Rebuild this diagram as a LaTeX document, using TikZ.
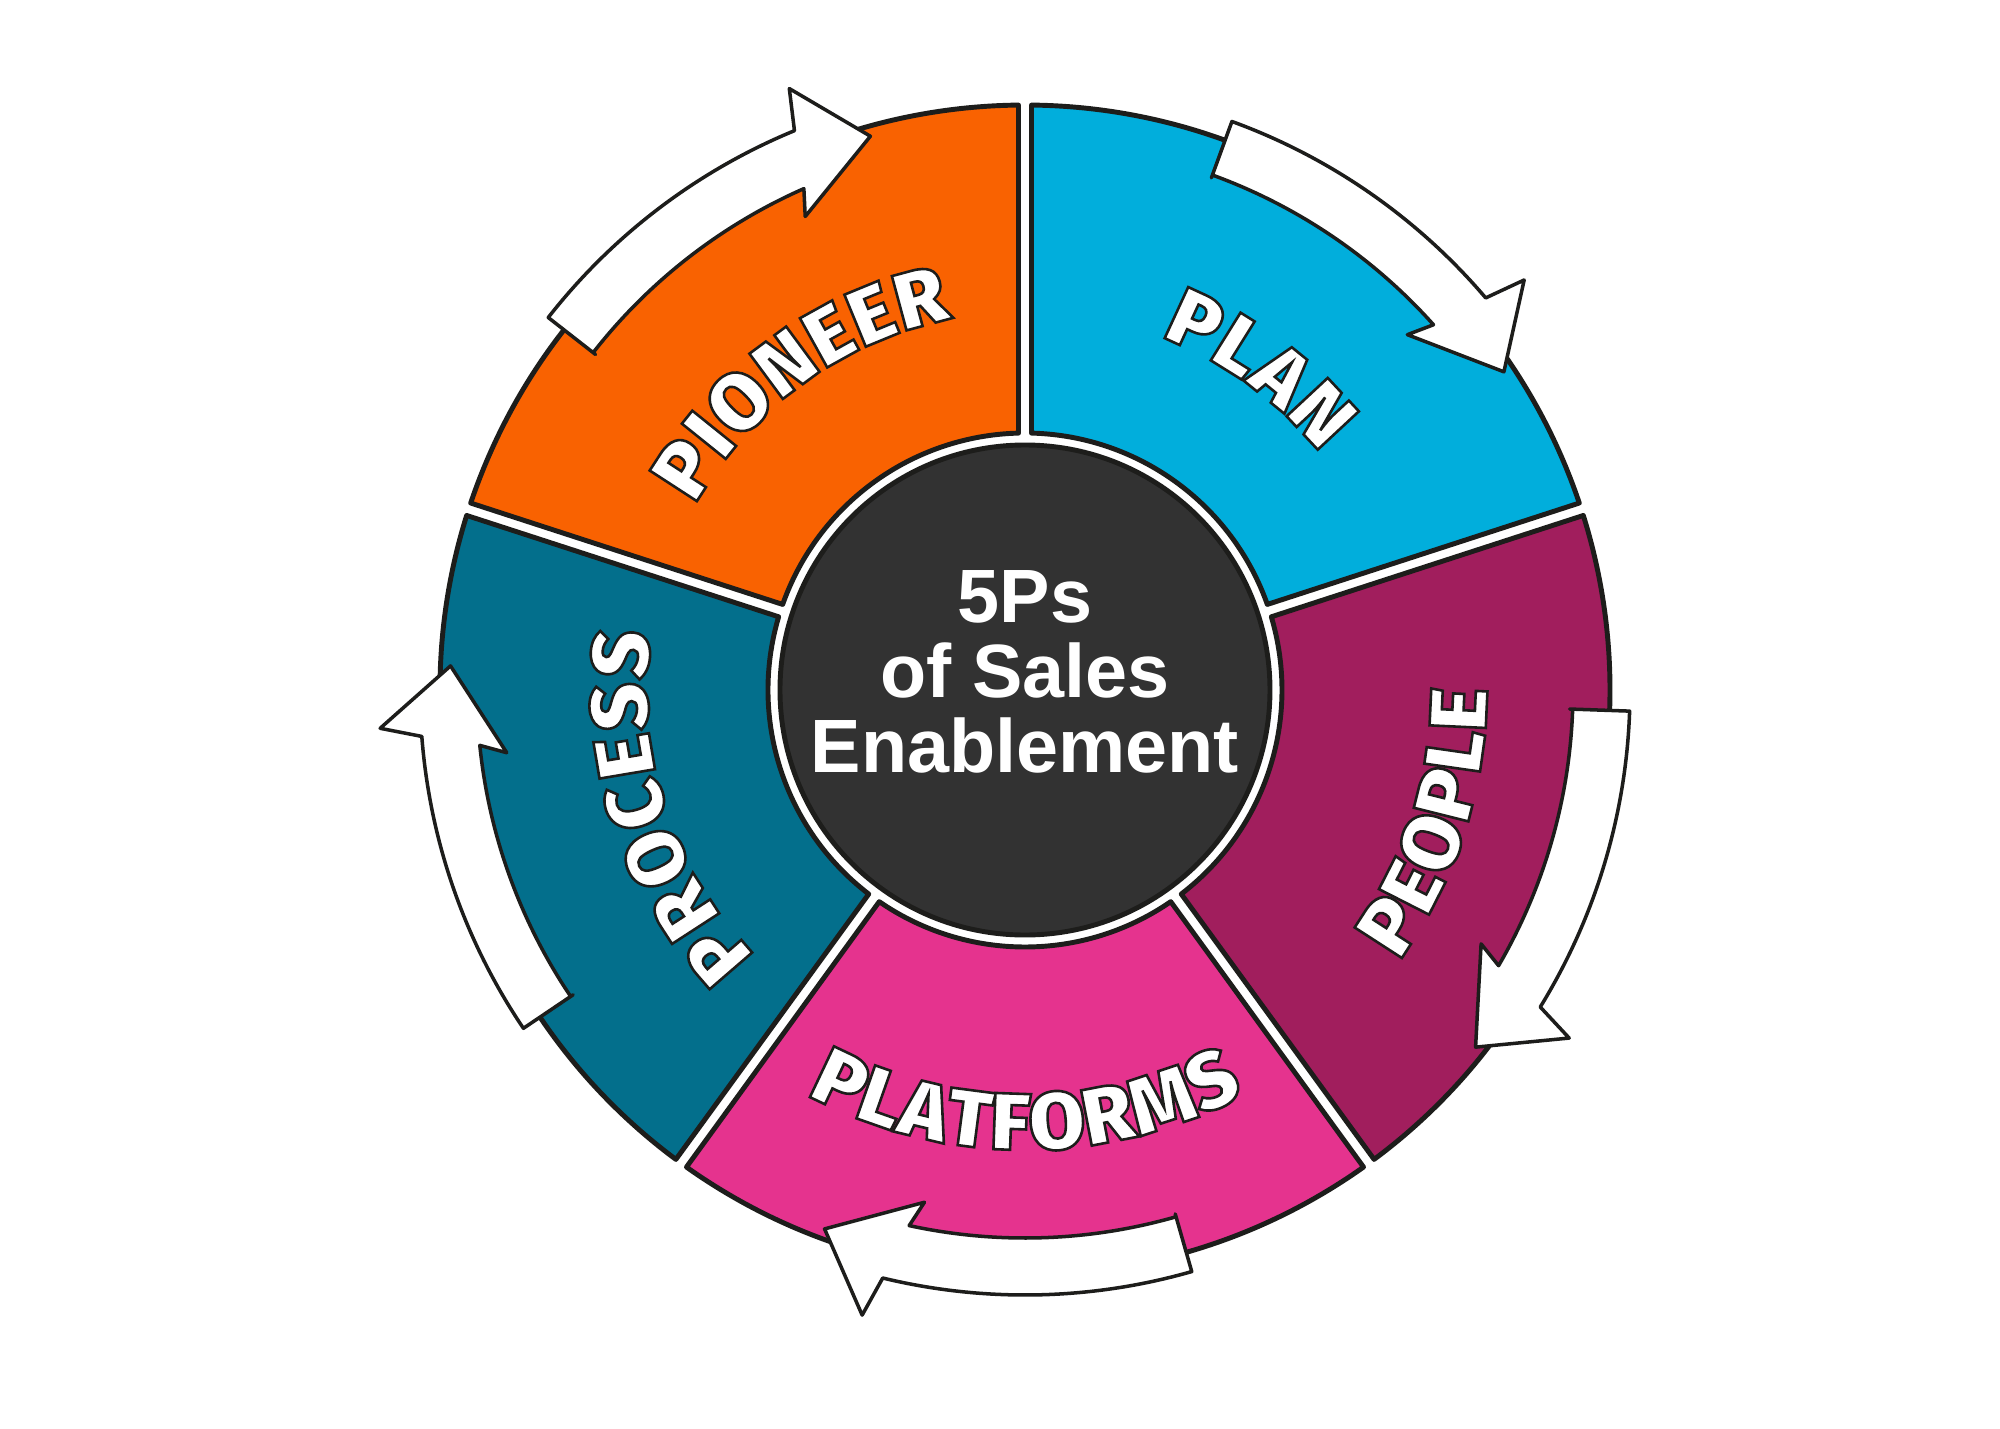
\documentclass[tikz,border=0pt]{standalone}
\usepackage{fontspec}
\usetikzlibrary{decorations.text}
\newfontfamily\hubfont{Liberation Sans}
\newfontfamily\wordfont{Fira Sans}[UprightFont={* Black}, FakeBold=3.2]
\definecolor{ink}{HTML}{1D1D1B}
\definecolor{core}{HTML}{323232}
\definecolor{pioneer}{HTML}{F96201}
\definecolor{plan}{HTML}{01AEDC}
\definecolor{people}{HTML}{A11E5D}
\definecolor{platforms}{HTML}{E5338E}
\definecolor{process}{HTML}{036F8C}
\newcommand{\wordfmt}{\wordfont\fontsize{23}{23}\selectfont\color{white}\special{pdf:literal direct 0.114 0.114 0.106 RG}\kern0.5pt}
\tikzset{
    petal/.style={
           draw=ink,
           line width=1.4pt,
           line join=round,
           },
    turn/.style={
           draw=ink,
           fill=white,
           line width=1pt,
           line join=round,
           },
    hub/.style={
           circle,
           draw=ink,
           fill=core,
           line width=1.4pt,
           minimum size=4.9cm,
           inner sep=0pt,
           },
    hubtext/.style={
           align=center,
           text=white,
           inner sep=0pt,
           font=\hubfont\bfseries\fontsize{21.5}{21.3}\selectfont,
           },
    outword/.style={
           decorate,
           decoration={text along path, text align=center, text={|\wordfmt|#1}},
           }
}

\begin{document}
\begin{tikzpicture}
\useasboundingbox (-10.25,-7.38) rectangle (9.75,6.90);
\foreach \k/\c in {0/pioneer,1/plan,2/people,3/platforms,4/process}
  \filldraw[petal, fill=\c, rotate=-72*\k] (161.36:5.85) arc[start angle=161.36, end angle=90.64, radius=5.85]
    -- (91.45:2.57) arc[start angle=91.45, end angle=160.55, radius=2.57] -- cycle;
\foreach \k in {0,...,4}
  \draw[turn, rotate=-72*\k] (142:5.45) -- (142:6.05) arc[start angle=142, end angle=112.4, radius=6.05]
    -- (111.4:6.46) -- (105.6:5.75) -- (114.9:5.22) -- (113.8:5.48)
    arc[start angle=113.8, end angle=142, radius=5.48] -- cycle;
\node (core) [hub] at (0,0) {};
\node (title) [hubtext] at (0,0.18) {5Ps\\of Sales\\Enablement};
\path[outword=PIONEER] (162:3.78) arc[start angle=162, end angle=90, radius=3.78];
\path[outword=PLAN] (90:3.78) arc[start angle=90, end angle=18, radius=3.78];
\path[outword=PEOPLE] (-54:4.62) arc[start angle=-54, end angle=18, radius=4.62];
\path[outword=PLATFORMS] (-126:4.6) arc[start angle=-126, end angle=-54, radius=4.6];
\path[outword=PROCESS] (234:3.78) arc[start angle=234, end angle=162, radius=3.78];
\end{tikzpicture}
\end{document}
